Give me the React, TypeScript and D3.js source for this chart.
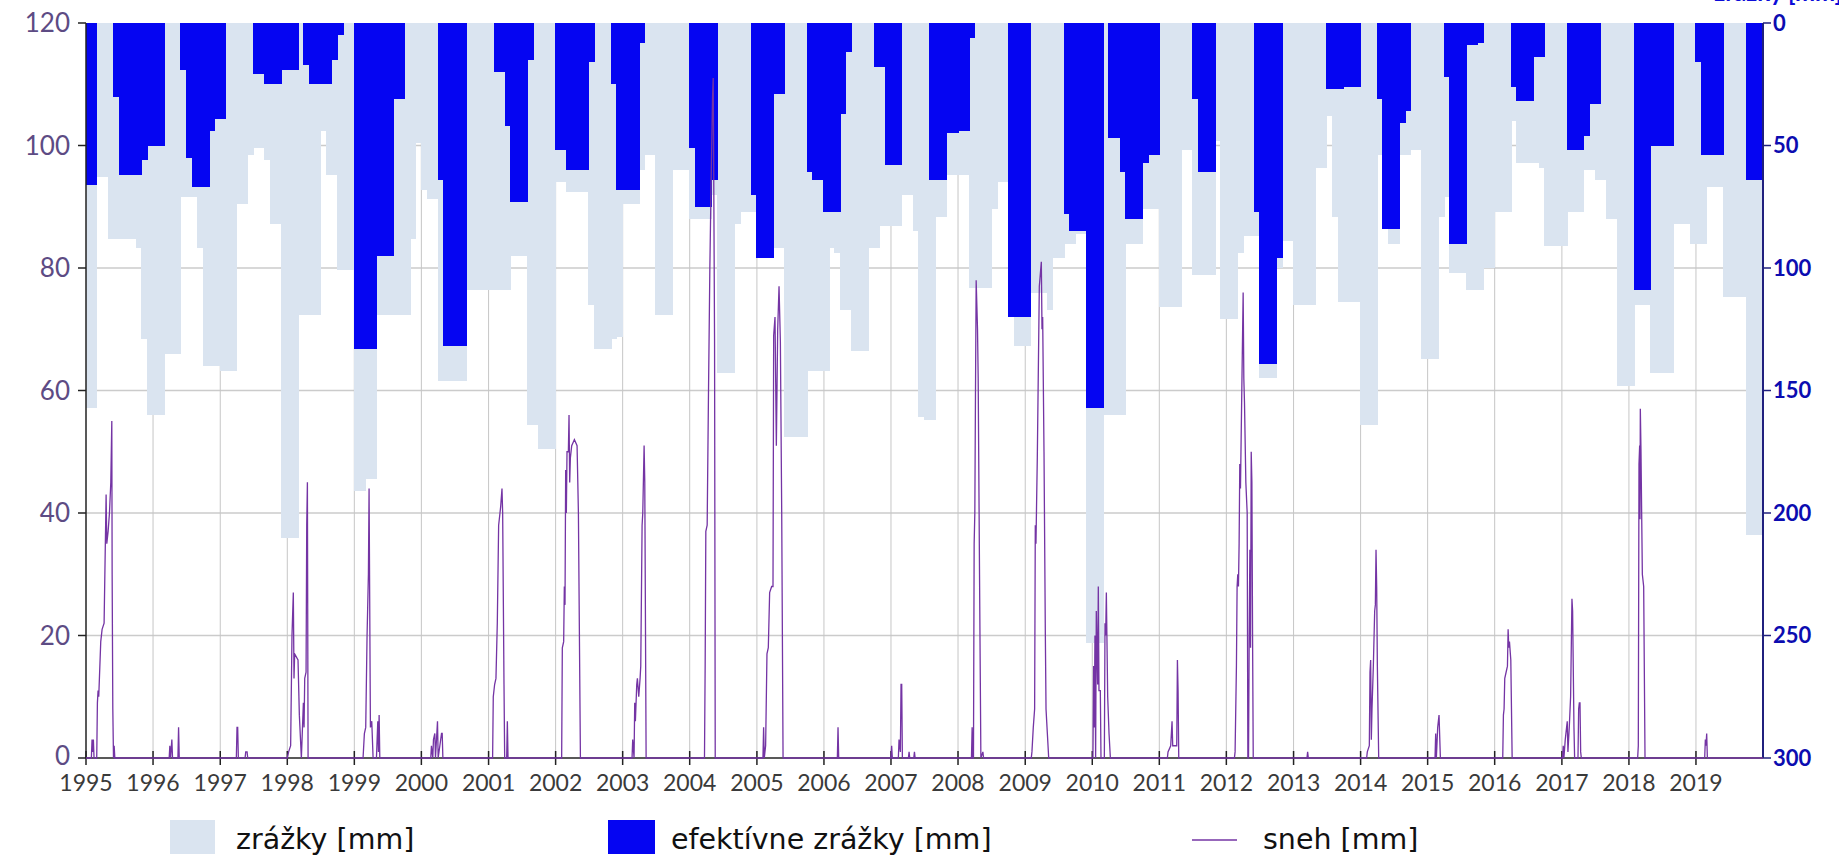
import { useEffect, useRef } from "react";
import * as d3 from "d3";

// mesačné zrážky [mm], od 1995-01 po 2019-12 (jeden riadok = jeden rok)
const zrazky: number[] = [
  157, 157, 63, 63, 88, 88, 88, 88, 88, 92, 129, 160,
  160, 160, 135, 135, 135, 71, 71, 71, 92, 140, 140, 140,
  142, 142, 142, 74, 74, 54, 51, 51, 56, 82, 82, 210,
  210, 210, 119, 119, 119, 119, 44, 62, 62, 101, 101, 101,
  191, 191, 186, 186, 119, 119, 119, 119, 119, 119, 88, 49,
  68, 72, 72, 146, 146, 146, 146, 146, 109, 109, 109, 109,
  109, 109, 109, 109, 95, 95, 95, 164, 164, 174, 174, 174,
  65, 65, 69, 69, 69, 69, 115, 133, 133, 133, 129, 128,
  74, 74, 74, 60, 54, 54, 119, 119, 119, 60, 60, 60,
  80, 80, 80, 80, 70, 143, 143, 143, 82, 77, 77, 77,
  96, 96, 96, 92, 92, 169, 169, 169, 169, 142, 142, 142,
  142, 92, 94, 117, 117, 134, 134, 134, 92, 92, 83, 83,
  83, 83, 70, 70, 85, 161, 162, 162, 79, 79, 62, 62,
  62, 62, 108, 108, 108, 108, 76, 65, 65, 120, 132, 132,
  132, 110, 110, 110, 117, 96, 96, 90, 90, 86, 86, 253,
  253, 253, 160, 160, 160, 160, 90, 90, 90, 76, 76, 76,
  116, 116, 116, 116, 52, 52, 103, 103, 103, 103, 48, 121,
  121, 121, 94, 87, 87, 87, 145, 145, 145, 100, 89, 89,
  115, 115, 115, 115, 59, 59, 38, 79, 114, 114, 114, 114,
  164, 164, 164, 54, 84, 90, 90, 54, 54, 52, 52, 137,
  137, 137, 79, 71, 102, 102, 102, 109, 109, 109, 100, 100,
  77, 77, 77, 40, 57, 57, 57, 57, 59, 91, 91, 91,
  91, 77, 77, 77, 60, 60, 64, 64, 80, 80, 148, 148,
  148, 115, 115, 115, 143, 143, 143, 143, 82, 82, 82, 90,
  90, 90, 67, 67, 67, 112, 112, 112, 112, 209, 209, 209,
];

// mesačné efektívne zrážky [mm]
const efektivne: number[] = [
  66, 66, 0, 0, 0, 30, 62, 62, 62, 62, 56, 50,
  50, 50, 0, 0, 0, 19, 55, 67, 67, 67, 44, 39,
  39, 0, 0, 0, 0, 0, 21, 21, 25, 25, 25, 19,
  19, 19, 0, 17, 25, 25, 25, 25, 15, 5, 0, 0,
  133, 133, 133, 133, 95, 95, 95, 31, 31, 0, 0, 0,
  0, 0, 0, 64, 132, 132, 132, 132, 0, 0, 0, 0,
  0, 20, 20, 42, 73, 73, 73, 15, 0, 0, 0, 0,
  52, 52, 60, 60, 60, 60, 16, 0, 0, 0, 25, 68,
  68, 68, 68, 8, 0, 0, 0, 0, 0, 0, 0, 0,
  51, 75, 75, 75, 64, 0, 0, 0, 0, 0, 0, 70,
  96, 96, 96, 29, 29, 0, 0, 0, 0, 61, 64, 64,
  77, 77, 77, 37, 12, 0, 0, 0, 0, 18, 18, 58,
  58, 58, 0, 0, 0, 0, 0, 64, 64, 64, 45, 45,
  44, 44, 6, 0, 0, 0, 0, 0, 0, 120, 120, 120,
  120, 0, 0, 0, 0, 0, 0, 78, 85, 85, 85, 157,
  157, 157, 0, 47, 47, 61, 80, 80, 80, 57, 54, 54,
  0, 0, 0, 0, 0, 0, 31, 61, 61, 61, 0, 0,
  0, 0, 0, 0, 0, 77, 139, 139, 139, 96, 0, 0,
  0, 0, 0, 0, 0, 0, 27, 27, 27, 26, 26, 26,
  0, 0, 0, 31, 84, 84, 84, 41, 36, 0, 0, 0,
  0, 0, 0, 22, 90, 90, 90, 9, 9, 8, 0, 0,
  0, 0, 0, 26, 32, 32, 32, 14, 14, 0, 0, 0,
  0, 52, 52, 52, 46, 33, 33, 0, 0, 0, 0, 0,
  0, 109, 109, 109, 50, 50, 50, 50, 0, 0, 0, 0,
  16, 54, 54, 54, 54, 0, 0, 0, 0, 64, 64, 64,
];

// sneh [mm] – [čas v desatinných rokoch, hodnota]
const sneh: [number, number][] = [
  [1995.0, 0],
  [1995.08, 0], [1995.09, 3], [1995.1, 1], [1995.11, 3], [1995.12, 0], [1995.16, 0], [1995.17, 9],
  [1995.18, 11], [1995.19, 10], [1995.22, 19], [1995.24, 21], [1995.27, 22], [1995.3, 43], [1995.31, 35],
  [1995.33, 37], [1995.35, 40], [1995.37, 45], [1995.385, 55], [1995.39, 30], [1995.4, 8], [1995.41, 0],
  [1995.42, 2], [1995.43, 0],
  [1996.24, 0], [1996.25, 2], [1996.26, 0], [1996.28, 3], [1996.29, 0], [1996.37, 0], [1996.38, 5], [1996.39, 0],
  [1997.24, 0], [1997.25, 5], [1997.26, 5], [1997.27, 0], [1997.37, 0], [1997.38, 1], [1997.4, 1], [1997.41, 0],
  [1998.0, 0], [1998.02, 1], [1998.05, 2], [1998.07, 20], [1998.09, 27], [1998.1, 13], [1998.11, 17],
  [1998.16, 16], [1998.18, 7], [1998.21, 0], [1998.22, 3], [1998.24, 9], [1998.25, 5], [1998.26, 13],
  [1998.28, 14], [1998.29, 38], [1998.3, 45], [1998.31, 0],
  [1999.13, 0], [1999.15, 4], [1999.17, 5], [1999.19, 20], [1999.21, 30], [1999.22, 44], [1999.24, 5],
  [1999.26, 6], [1999.28, 0], [1999.33, 0], [1999.35, 6], [1999.36, 1], [1999.37, 7], [1999.38, 0],
  [2000.14, 0], [2000.15, 2], [2000.17, 0], [2000.18, 3], [2000.2, 4], [2000.21, 0], [2000.24, 6],
  [2000.25, 0], [2000.3, 4], [2000.31, 4], [2000.32, 0],
  [2001.06, 0], [2001.07, 10], [2001.09, 12], [2001.11, 13], [2001.13, 22], [2001.15, 38], [2001.17, 40],
  [2001.18, 41], [2001.2, 44], [2001.21, 40], [2001.23, 12], [2001.24, 0], [2001.27, 0], [2001.28, 6], [2001.29, 0],
  [2002.09, 0], [2002.1, 18], [2002.12, 19], [2002.13, 28], [2002.14, 25], [2002.15, 47], [2002.16, 40],
  [2002.17, 50], [2002.19, 50], [2002.2, 56], [2002.21, 45], [2002.22, 49], [2002.24, 51], [2002.28, 52],
  [2002.32, 51], [2002.34, 40], [2002.37, 0],
  [2003.14, 0], [2003.15, 3], [2003.17, 0], [2003.18, 9], [2003.19, 6], [2003.21, 12], [2003.22, 13],
  [2003.24, 10], [2003.26, 13], [2003.27, 15], [2003.29, 38], [2003.3, 40], [2003.32, 51], [2003.33, 45], [2003.35, 0],
  [2004.22, 0], [2004.23, 15], [2004.24, 37], [2004.26, 38], [2004.28, 60], [2004.3, 80], [2004.32, 95],
  [2004.34, 108], [2004.35, 111], [2004.36, 90], [2004.37, 68], [2004.38, 0],
  [2005.09, 0], [2005.1, 5], [2005.11, 0], [2005.13, 2], [2005.15, 17], [2005.17, 18], [2005.19, 27],
  [2005.22, 28], [2005.24, 28], [2005.25, 69], [2005.27, 72], [2005.29, 51], [2005.31, 70], [2005.33, 77],
  [2005.35, 68], [2005.37, 40], [2005.39, 0],
  [2006.2, 0], [2006.21, 5], [2006.22, 0],
  [2007.0, 0], [2007.01, 2], [2007.02, 0], [2007.11, 0], [2007.12, 3], [2007.14, 1], [2007.15, 12],
  [2007.16, 12], [2007.17, 0], [2007.26, 0], [2007.27, 1], [2007.28, 0], [2007.34, 0], [2007.35, 1], [2007.36, 0],
  [2008.2, 0], [2008.21, 5], [2008.22, 0], [2008.23, 0], [2008.24, 35], [2008.25, 40], [2008.26, 60],
  [2008.27, 78], [2008.29, 70], [2008.3, 62], [2008.32, 30], [2008.34, 0], [2008.37, 1], [2008.38, 0],
  [2009.09, 0], [2009.1, 1], [2009.12, 5], [2009.14, 8], [2009.15, 38], [2009.16, 35], [2009.18, 49],
  [2009.21, 77], [2009.24, 81], [2009.25, 70], [2009.26, 72], [2009.28, 50], [2009.3, 20], [2009.31, 8],
  [2009.33, 4], [2009.35, 0],
  [2010.01, 0], [2010.02, 15], [2010.03, 5], [2010.04, 20], [2010.05, 0], [2010.06, 24], [2010.08, 12],
  [2010.09, 28], [2010.1, 11], [2010.12, 11], [2010.13, 0], [2010.18, 0], [2010.19, 22], [2010.2, 20],
  [2010.21, 27], [2010.23, 10], [2010.25, 4], [2010.27, 0],
  [2011.12, 0], [2011.13, 1], [2011.17, 2], [2011.19, 6], [2011.2, 2], [2011.26, 2], [2011.27, 16],
  [2011.28, 11], [2011.29, 0],
  [2012.12, 0], [2012.13, 1], [2012.15, 15], [2012.16, 28], [2012.17, 30], [2012.18, 28], [2012.19, 35],
  [2012.2, 48], [2012.21, 44], [2012.23, 60], [2012.25, 76], [2012.26, 62], [2012.27, 58], [2012.29, 45],
  [2012.31, 40], [2012.32, 0], [2012.33, 0], [2012.34, 20], [2012.35, 34], [2012.36, 18], [2012.37, 50],
  [2012.38, 45], [2012.39, 20], [2012.4, 0],
  [2013.2, 0], [2013.21, 1], [2013.22, 0],
  [2014.09, 0], [2014.1, 1], [2014.13, 2], [2014.14, 14], [2014.15, 16], [2014.16, 3], [2014.17, 8],
  [2014.19, 15], [2014.21, 24], [2014.22, 25], [2014.23, 34], [2014.24, 28], [2014.25, 15], [2014.27, 0],
  [2015.11, 0], [2015.12, 4], [2015.13, 0], [2015.15, 5], [2015.17, 7], [2015.19, 0],
  [2016.12, 0], [2016.13, 7], [2016.14, 8], [2016.15, 13], [2016.17, 14], [2016.19, 15], [2016.2, 21],
  [2016.21, 18], [2016.22, 19], [2016.24, 16], [2016.26, 0],
  [2017.01, 0], [2017.02, 2], [2017.03, 0], [2017.05, 3], [2017.07, 5], [2017.08, 6], [2017.09, 1],
  [2017.11, 5], [2017.13, 10], [2017.15, 26], [2017.16, 24], [2017.18, 5], [2017.19, 0], [2017.24, 0],
  [2017.25, 8], [2017.26, 9], [2017.27, 9], [2017.28, 1], [2017.29, 0],
  [2018.13, 0], [2018.14, 2], [2018.15, 48], [2018.16, 51], [2018.165, 39], [2018.17, 57], [2018.18, 50],
  [2018.19, 40], [2018.2, 30], [2018.22, 28], [2018.24, 0],
  [2019.13, 0], [2019.14, 3], [2019.15, 2], [2019.16, 4], [2019.17, 0],
  [2019.999, 0],
];

const roky = d3.range(1995, 2020);
const snehTicks = [0, 20, 40, 60, 80, 100, 120];
const zrazkyTicks = [0, 50, 100, 150, 200, 250, 300];

const LIGHT = "#dae4f0";
const DARK = "#0505f2";
const PURPLE = "#7434a4";

function decToDate(t: number): Date {
  const y = Math.floor(t);
  const a = new Date(y, 0, 1).getTime();
  const b = new Date(y + 1, 0, 1).getTime();
  return new Date(a + (t - y) * (b - a));
}

export default function App() {
  const svgRef = useRef<SVGSVGElement>(null);

  useEffect(() => {
    document.body.style.margin = "0";
    if (!svgRef.current) return;
    const W = 1839, H = 864;
    const margin = { top: 23, right: 76, bottom: 106, left: 86 };
    const innerW = W - margin.left - margin.right;
    const innerH = H - margin.top - margin.bottom;

    const svg = d3.select(svgRef.current);
    svg.selectAll("*").remove();
    svg.attr("width", W).attr("height", H);

    const g = svg.append("g").attr("transform", `translate(${margin.left},${margin.top})`);

    // ── Scales ──────────────────────────────────────
    const x = d3.scaleTime()
      .domain([new Date(1995, 0, 1), new Date(2020, 0, 1)])
      .range([0, innerW]);
    const yL = d3.scaleLinear().domain([0, 120]).range([innerH, 0]);
    const yR = d3.scaleLinear().domain([0, 300]).range([0, innerH]);

    // ── Grid ────────────────────────────────────────
    g.append("g")
      .selectAll("line")
      .data(snehTicks.filter((d) => d > 0 && d < 120))
      .join("line")
      .attr("x1", 0).attr("x2", innerW)
      .attr("y1", (d) => yL(d)).attr("y2", (d) => yL(d))
      .attr("stroke", "#cbcbcb").attr("stroke-width", 1.5);

    g.append("g")
      .selectAll("line")
      .data(roky.slice(1))
      .join("line")
      .attr("x1", (d) => x(new Date(d, 0, 1))).attr("x2", (d) => x(new Date(d, 0, 1)))
      .attr("y1", 0).attr("y2", innerH)
      .attr("stroke", "#c6c6c6").attr("stroke-width", 1);

    // ── Bars (zrážky, efektívne zrážky) ──────────────
    const barX = (i: number) => Math.floor(x(new Date(1995, i, 1)));
    const barW = (i: number) => Math.ceil(x(new Date(1995, i + 1, 1))) - barX(i);

    g.append("g")
      .attr("shape-rendering", "crispEdges")
      .selectAll("rect")
      .data(zrazky)
      .join("rect")
      .attr("x", (_, i) => barX(i))
      .attr("y", 0)
      .attr("width", (_, i) => barW(i))
      .attr("height", (d) => yR(d))
      .attr("fill", LIGHT);

    g.append("g")
      .attr("shape-rendering", "crispEdges")
      .selectAll("rect")
      .data(efektivne)
      .join("rect")
      .attr("x", (_, i) => barX(i))
      .attr("y", 0)
      .attr("width", (_, i) => barW(i))
      .attr("height", (d) => yR(d))
      .attr("fill", DARK);

    // ── Left axis ───────────────────────────────────
    g.append("line")
      .attr("x1", 0).attr("x2", 0).attr("y1", 0).attr("y2", innerH)
      .attr("stroke", "#222").attr("stroke-width", 1.5);
    snehTicks.forEach((t) => {
      g.append("line")
        .attr("x1", -8).attr("x2", 0).attr("y1", yL(t)).attr("y2", yL(t))
        .attr("stroke", "#222").attr("stroke-width", 1.5);
      g.append("text")
        .attr("x", -16).attr("y", yL(t) - (t === 0 ? 2 : 0))
        .attr("dy", "0.36em")
        .attr("text-anchor", "end")
        .attr("font-family", "Lato, 'DejaVu Sans', sans-serif")
        .attr("font-size", 26)
        .attr("fill", "#5d4b84")
        .text(String(t));
    });

    // ── Right axis ──────────────────────────────────
    g.append("line")
      .attr("x1", innerW).attr("x2", innerW).attr("y1", 0).attr("y2", innerH)
      .attr("stroke", "#20207e").attr("stroke-width", 2);
    zrazkyTicks.forEach((t) => {
      g.append("line")
        .attr("x1", innerW).attr("x2", innerW + 8).attr("y1", yR(t)).attr("y2", yR(t))
        .attr("stroke", "#20207e").attr("stroke-width", 1.5);
      g.append("text")
        .attr("x", innerW + 10).attr("y", yR(t))
        .attr("dy", "0.36em")
        .attr("font-family", "Lato, 'DejaVu Sans', sans-serif")
        .attr("font-size", 22)
        .attr("font-weight", "bold")
        .attr("fill", "#0c0cb0")
        .text(String(t));
    });

    // right axis title, cut off at the top edge (only descenders show)
    svg.append("text")
      .attr("x", 1842).attr("y", 1)
      .attr("text-anchor", "end")
      .attr("font-family", "Lato, 'DejaVu Sans', sans-serif")
      .attr("font-size", 24)
      .attr("font-weight", "bold")
      .attr("fill", "#0c0cd8")
      .text("zrážky [mm]");

    // ── Bottom axis ─────────────────────────────────
    g.append("line")
      .attr("x1", 0).attr("x2", innerW).attr("y1", innerH).attr("y2", innerH)
      .attr("stroke", "#222").attr("stroke-width", 1.5);
    roky.forEach((r) => {
      const xx = x(new Date(r, 0, 1));
      g.append("line")
        .attr("x1", xx).attr("x2", xx).attr("y1", innerH - 7).attr("y2", innerH + 7)
        .attr("stroke", "#222").attr("stroke-width", 1.5);
      g.append("text")
        .attr("x", xx).attr("y", innerH + 33)
        .attr("text-anchor", "middle")
        .attr("font-family", "Lato, 'DejaVu Sans', sans-serif")
        .attr("font-size", 23)
        .attr("fill", "#3a3a3a")
        .text(String(r));
    });

    // ── Sneh ────────────────────────────────────────
    const line = d3.line<[number, number]>()
      .x((d) => x(decToDate(d[0])))
      .y((d) => yL(d[1]));
    g.append("path")
      .datum(sneh)
      .attr("d", line)
      .attr("fill", "none")
      .attr("stroke", PURPLE)
      .attr("stroke-width", 1.3);

    // ── Legend ──────────────────────────────────────
    const lg = svg.append("g")
      .attr("font-family", "'DejaVu Sans', Verdana, sans-serif")
      .attr("font-size", 28.5)
      .attr("fill", "#111");
    lg.append("rect").attr("x", 170).attr("y", 820).attr("width", 45).attr("height", 34).attr("fill", LIGHT);
    lg.append("text").attr("x", 236).attr("y", 849).text("zrážky [mm]");
    lg.append("rect").attr("x", 608).attr("y", 820).attr("width", 47).attr("height", 34).attr("fill", DARK);
    lg.append("text").attr("x", 671).attr("y", 849).text("efektívne zrážky [mm]");
    lg.append("line").attr("x1", 1192).attr("x2", 1237).attr("y1", 840).attr("y2", 840)
      .attr("stroke", PURPLE).attr("stroke-width", 1.4);
    lg.append("text").attr("x", 1263).attr("y", 849).text("sneh [mm]");
  }, []);

  return (
    <div style={{ width: 1839, height: 864, background: "#fff" }}>
      <svg ref={svgRef} width={1839} height={864} style={{ display: "block" }} />
    </div>
  );
}
